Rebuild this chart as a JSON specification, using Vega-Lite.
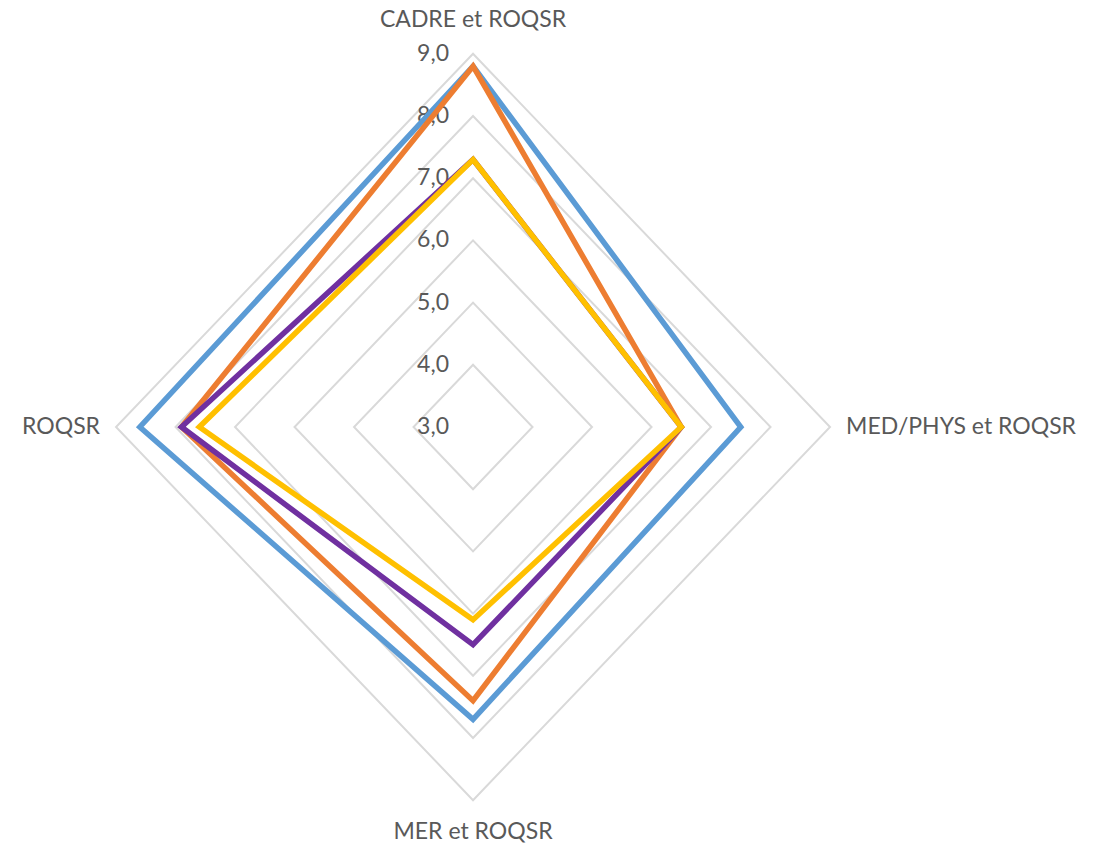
{
  "$schema": "https://vega.github.io/schema/vega-lite/v6.json",
  "width": 1107,
  "height": 843,
  "autosize": "none",
  "padding": 0,
  "background": "white",
  "config": {
    "view": {"stroke": null},
    "locale": {"number": {"decimal": ",", "thousands": "\u00a0", "grouping": [3], "currency": ["", "\u00a0€"]}}
  },
  "datasets": {
    "series": [
      {"serie": "Série 1", "axe": "CADRE et ROQSR", "k": 0, "valeur": 8.8},
      {"serie": "Série 1", "axe": "MED/PHYS et ROQSR", "k": 1, "valeur": 7.5},
      {"serie": "Série 1", "axe": "MER et ROQSR", "k": 2, "valeur": 7.7},
      {"serie": "Série 1", "axe": "ROQSR", "k": 3, "valeur": 8.6},
      {"serie": "Série 2", "axe": "CADRE et ROQSR", "k": 0, "valeur": 8.8},
      {"serie": "Série 2", "axe": "MED/PHYS et ROQSR", "k": 1, "valeur": 6.5},
      {"serie": "Série 2", "axe": "MER et ROQSR", "k": 2, "valeur": 7.4},
      {"serie": "Série 2", "axe": "ROQSR", "k": 3, "valeur": 7.9},
      {"serie": "Série 3", "axe": "CADRE et ROQSR", "k": 0, "valeur": 7.3},
      {"serie": "Série 3", "axe": "MED/PHYS et ROQSR", "k": 1, "valeur": 6.5},
      {"serie": "Série 3", "axe": "MER et ROQSR", "k": 2, "valeur": 6.5},
      {"serie": "Série 3", "axe": "ROQSR", "k": 3, "valeur": 7.9},
      {"serie": "Série 4", "axe": "CADRE et ROQSR", "k": 0, "valeur": 7.3},
      {"serie": "Série 4", "axe": "MED/PHYS et ROQSR", "k": 1, "valeur": 6.5},
      {"serie": "Série 4", "axe": "MER et ROQSR", "k": 2, "valeur": 6.1},
      {"serie": "Série 4", "axe": "ROQSR", "k": 3, "valeur": 7.6}
    ],
    "grille": [
      {"axe": "CADRE et ROQSR", "k": 0, "valeur": 4}, {"axe": "MED/PHYS et ROQSR", "k": 1, "valeur": 4}, {"axe": "MER et ROQSR", "k": 2, "valeur": 4}, {"axe": "ROQSR", "k": 3, "valeur": 4},
      {"axe": "CADRE et ROQSR", "k": 0, "valeur": 5}, {"axe": "MED/PHYS et ROQSR", "k": 1, "valeur": 5}, {"axe": "MER et ROQSR", "k": 2, "valeur": 5}, {"axe": "ROQSR", "k": 3, "valeur": 5},
      {"axe": "CADRE et ROQSR", "k": 0, "valeur": 6}, {"axe": "MED/PHYS et ROQSR", "k": 1, "valeur": 6}, {"axe": "MER et ROQSR", "k": 2, "valeur": 6}, {"axe": "ROQSR", "k": 3, "valeur": 6},
      {"axe": "CADRE et ROQSR", "k": 0, "valeur": 7}, {"axe": "MED/PHYS et ROQSR", "k": 1, "valeur": 7}, {"axe": "MER et ROQSR", "k": 2, "valeur": 7}, {"axe": "ROQSR", "k": 3, "valeur": 7},
      {"axe": "CADRE et ROQSR", "k": 0, "valeur": 8}, {"axe": "MED/PHYS et ROQSR", "k": 1, "valeur": 8}, {"axe": "MER et ROQSR", "k": 2, "valeur": 8}, {"axe": "ROQSR", "k": 3, "valeur": 8},
      {"axe": "CADRE et ROQSR", "k": 0, "valeur": 9}, {"axe": "MED/PHYS et ROQSR", "k": 1, "valeur": 9}, {"axe": "MER et ROQSR", "k": 2, "valeur": 9}, {"axe": "ROQSR", "k": 3, "valeur": 9}
    ],
    "niveaux": [
      {"axe": "CADRE et ROQSR", "valeur": 3}, {"axe": "CADRE et ROQSR", "valeur": 4}, {"axe": "CADRE et ROQSR", "valeur": 5},
      {"axe": "CADRE et ROQSR", "valeur": 6}, {"axe": "CADRE et ROQSR", "valeur": 7}, {"axe": "CADRE et ROQSR", "valeur": 8},
      {"axe": "CADRE et ROQSR", "valeur": 9}
    ],
    "axes": [
      {"axe": "CADRE et ROQSR", "valeur": 9},
      {"axe": "MED/PHYS et ROQSR", "valeur": 9},
      {"axe": "MER et ROQSR", "valeur": 9},
      {"axe": "ROQSR", "valeur": 9}
    ]
  },
  "encoding": {
    "x": {"field": "x", "type": "quantitative", "scale": {"domain": [-7.95, 10.655], "nice": false, "zero": false}, "axis": null},
    "y": {"field": "y", "type": "quantitative", "scale": {"domain": [-6.688, 6.865], "nice": false, "zero": false}, "axis": null}
  },
  "layer": [
    {
      "data": {"name": "grille"},
      "transform": [
        {"calculate": "datum.axe === 'MED/PHYS et ROQSR' ? datum.valeur - 3 : datum.axe === 'ROQSR' ? 3 - datum.valeur : 0", "as": "x"},
        {"calculate": "datum.axe === 'CADRE et ROQSR' ? datum.valeur - 3 : datum.axe === 'MER et ROQSR' ? 3 - datum.valeur : 0", "as": "y"}
      ],
      "mark": {"type": "line", "interpolate": "linear-closed", "stroke": "#D9D9D9", "strokeWidth": 2},
      "encoding": {
        "detail": {"field": "valeur", "type": "nominal"},
        "order": {"field": "k", "type": "quantitative"}
      }
    },
    {
      "data": {"name": "niveaux"},
      "transform": [
        {"calculate": "0", "as": "x"},
        {"calculate": "datum.valeur - 3", "as": "y"}
      ],
      "mark": {"type": "text", "align": "center", "baseline": "middle", "dx": -40, "font": "Lato", "fontSize": 23, "fill": "#595959"},
      "encoding": {
        "text": {"field": "valeur", "type": "quantitative", "format": ".1f"}
      }
    },
    {
      "data": {"name": "series"},
      "transform": [
        {"calculate": "datum.axe === 'MED/PHYS et ROQSR' ? datum.valeur - 3 : datum.axe === 'ROQSR' ? 3 - datum.valeur : 0", "as": "x"},
        {"calculate": "datum.axe === 'CADRE et ROQSR' ? datum.valeur - 3 : datum.axe === 'MER et ROQSR' ? 3 - datum.valeur : 0", "as": "y"}
      ],
      "mark": {"type": "line", "interpolate": "linear-closed", "strokeWidth": 5.5, "strokeJoin": "miter"},
      "encoding": {
        "color": {"field": "serie", "type": "nominal", "scale": {"domain": ["Série 1", "Série 2", "Série 3", "Série 4"], "range": ["#5B9BD5", "#ED7D31", "#7030A0", "#FFC000"]}, "legend": null},
        "order": {"field": "k", "type": "quantitative"}
      }
    },
    {
      "data": {"name": "axes"},
      "transform": [
        {"filter": "datum.axe === 'CADRE et ROQSR'"},
        {"calculate": "0", "as": "x"},
        {"calculate": "datum.valeur - 3", "as": "y"}
      ],
      "mark": {"type": "text", "align": "center", "baseline": "alphabetic", "dy": -27, "font": "Lato", "fontSize": 23, "fill": "#595959"},
      "encoding": {"text": {"field": "axe", "type": "nominal"}}
    },
    {
      "data": {"name": "axes"},
      "transform": [
        {"filter": "datum.axe === 'MED/PHYS et ROQSR'"},
        {"calculate": "datum.valeur - 3", "as": "x"},
        {"calculate": "0", "as": "y"}
      ],
      "mark": {"type": "text", "align": "left", "baseline": "middle", "dx": 16, "font": "Lato", "fontSize": 23, "fill": "#595959"},
      "encoding": {"text": {"field": "axe", "type": "nominal"}}
    },
    {
      "data": {"name": "axes"},
      "transform": [
        {"filter": "datum.axe === 'MER et ROQSR'"},
        {"calculate": "0", "as": "x"},
        {"calculate": "3 - datum.valeur", "as": "y"}
      ],
      "mark": {"type": "text", "align": "center", "baseline": "top", "dy": 21, "font": "Lato", "fontSize": 23, "fill": "#595959"},
      "encoding": {"text": {"field": "axe", "type": "nominal"}}
    },
    {
      "data": {"name": "axes"},
      "transform": [
        {"filter": "datum.axe === 'ROQSR'"},
        {"calculate": "3 - datum.valeur", "as": "x"},
        {"calculate": "0", "as": "y"}
      ],
      "mark": {"type": "text", "align": "right", "baseline": "middle", "dx": -16, "font": "Lato", "fontSize": 23, "fill": "#595959"},
      "encoding": {"text": {"field": "axe", "type": "nominal"}}
    }
  ]
}
